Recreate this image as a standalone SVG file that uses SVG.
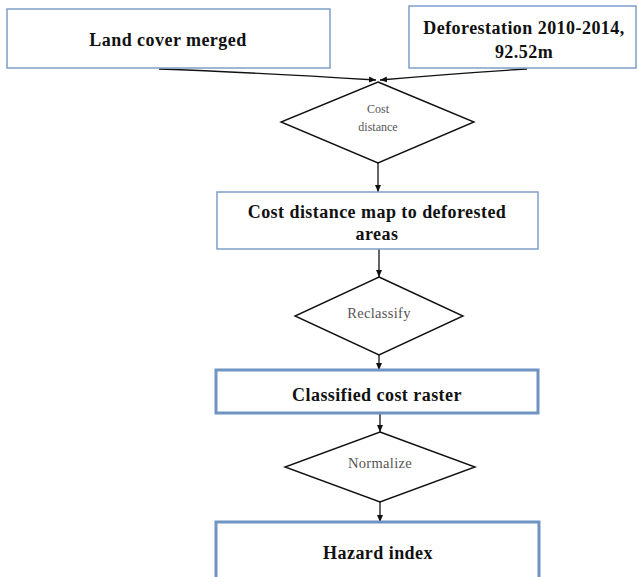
<svg xmlns="http://www.w3.org/2000/svg" width="638" height="577" viewBox="0 0 638 577">
  <style>
    .box { fill: #ffffff; stroke: #7f9fc7; stroke-width: 1.5; }
    .box-strong { fill: #ffffff; stroke: #6f93c2; stroke-width: 3; }
    .dia { fill: #ffffff; stroke: #111111; stroke-width: 1.4; }
    .lbl { font-family: "Liberation Serif", "Times New Roman", serif; font-weight: bold; font-size: 18px; letter-spacing: 0.45px; fill: #111111; text-anchor: middle; }
    .dlbl { font-family: "Liberation Serif", "Times New Roman", serif; fill: #555555; text-anchor: middle; }
    .edge { fill: none; stroke: #111111; stroke-width: 1.3; }
  </style>
  <defs>
    <marker id="arrow" markerWidth="8" markerHeight="8" refX="7" refY="4" orient="auto" markerUnits="userSpaceOnUse">
      <path d="M0,1 L7,4 L0,7 Z" fill="#111111"/>
    </marker>
  </defs>
  <rect width="638" height="577" fill="#ffffff"/>

  <g id="connectors">
    <path class="edge" d="M159,69 Q245,72 376,80" marker-end="url(#arrow)"/>
    <path class="edge" d="M527,69 Q460,73 380,80" marker-end="url(#arrow)"/>
    <path class="edge" d="M378,163 L378,192" marker-end="url(#arrow)"/>
    <path class="edge" d="M379,249 L379,277" marker-end="url(#arrow)"/>
    <path class="edge" d="M379,355 L379,370" marker-end="url(#arrow)"/>
    <path class="edge" d="M380,413 L380,432" marker-end="url(#arrow)"/>
    <path class="edge" d="M380,502 L380,522" marker-end="url(#arrow)"/>
  </g>

  <g id="land-cover">
    <rect class="box" x="7" y="9" width="323" height="59"/>
    <text class="lbl" x="168" y="46">Land cover merged</text>
  </g>

  <g id="deforestation">
    <rect class="box" x="409" y="6" width="227" height="62"/>
    <text class="lbl" x="524" y="34">Deforestation 2010-2014,</text>
    <text class="lbl" x="524" y="58">92.52m</text>
  </g>

  <g id="cost-distance-op">
    <polygon class="dia" points="378,82 474,122 378,163 281,122"/>
    <text class="dlbl" x="378" y="113" font-size="12">Cost</text>
    <text class="dlbl" x="378" y="131" font-size="12">distance</text>
  </g>

  <g id="cost-distance-map">
    <rect class="box" x="217" y="192" width="321" height="57"/>
    <text class="lbl" x="377" y="218">Cost distance map to deforested</text>
    <text class="lbl" x="377" y="240">areas</text>
  </g>

  <g id="reclassify-op">
    <polygon class="dia" points="379,277 463,316 379,355 295,316"/>
    <text class="dlbl" x="379" y="318" font-size="14.5" letter-spacing="0.3">Reclassify</text>
  </g>

  <g id="classified-raster">
    <rect class="box-strong" x="216" y="370" width="322" height="43"/>
    <text class="lbl" x="377" y="401">Classified cost raster</text>
  </g>

  <g id="normalize-op">
    <polygon class="dia" points="380,432 475,467 380,502 285,467"/>
    <text class="dlbl" x="380" y="468" font-size="14.5" letter-spacing="0.3">Normalize</text>
  </g>

  <g id="hazard-index">
    <rect class="box-strong" x="216" y="522" width="323" height="70"/>
    <text class="lbl" x="378" y="559">Hazard index</text>
  </g>
</svg>
